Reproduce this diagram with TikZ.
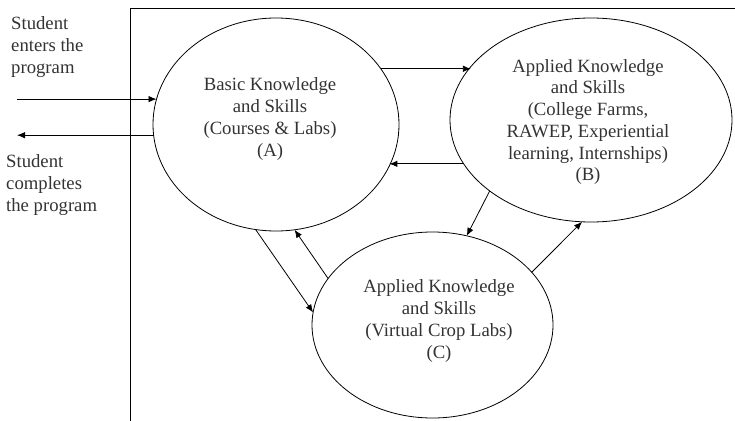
\documentclass[tikz,border=0pt]{standalone}
\usepackage{fontspec}
\setmainfont{Liberation Serif}
\usetikzlibrary{shapes.geometric,arrows.meta}
\begin{document}
\begin{tikzpicture}[x=1pt,y=-1pt,
  bubble/.style={draw, ellipse, inner sep=0pt, outer sep=0pt, line width=0.8pt},
  lbl/.style={align=center, inner sep=0pt, text=black!80, font=\fontsize{18.7}{21.7}\selectfont},
  side/.style={align=left, inner sep=0pt, text=black!80, font=\fontsize{18.7}{21.7}\selectfont},
  arr/.style={line width=0.8pt, -{Latex[length=8pt,width=6.5pt]}},
  frameline/.style={line width=0.8pt}]
\useasboundingbox (0,0) rectangle (735,420);
% frame
\coordinate (fTL) at (130,8);
\coordinate (fBL) at (130,421);
\coordinate (fTR) at (736,8);
\draw[frameline] (fBL) -- (fTL) -- (fTR);
% ellipses
\node[bubble, minimum width=246pt, minimum height=213pt] (A) at (276,124.5) {};
\node[bubble, minimum width=282pt, minimum height=204pt] (B) at (591,120) {};
\node[bubble, minimum width=241pt, minimum height=186pt] (C) at (432.5,325) {};
% texts
\node[lbl] (tA) at (270,119) {Basic Knowledge\\and Skills\\(Courses \& Labs)\\(A)};
\node[lbl] (tB) at (588,122) {Applied Knowledge\\and Skills\\(College Farms,\\RAWEP, Experiential\\learning, Internships)\\(B)};
\node[lbl] (tC) at (439,321) {Applied Knowledge\\and Skills\\(Virtual Crop Labs)\\(C)};
\node[side, anchor=west] (tin) at (11,47) {Student\\enters the\\program};
\node[side, anchor=west] (tout) at (6,185) {Student\\completes\\the program};
% free ends
\coordinate (L) at (17,0);
% connectors
\draw[arr] (L |- A.168.5) -- (A.168.5);
\draw[arr] (A.185.8) -- (L |- A.185.8);
\draw[arr] (A.28.5) -- (A.28.5 -| B.156.3);
\draw[arr] (B.199.6) -- (B.199.6 -| A.-20);
\draw[arr] (A.-101) -- (C.174);
\draw[arr] (C.156.8) -- (A.-80);
\draw[arr] (B.215.5) -- (C.69);
\draw[arr] (C.28.7) -- (B.265);
\end{tikzpicture}
\end{document}
